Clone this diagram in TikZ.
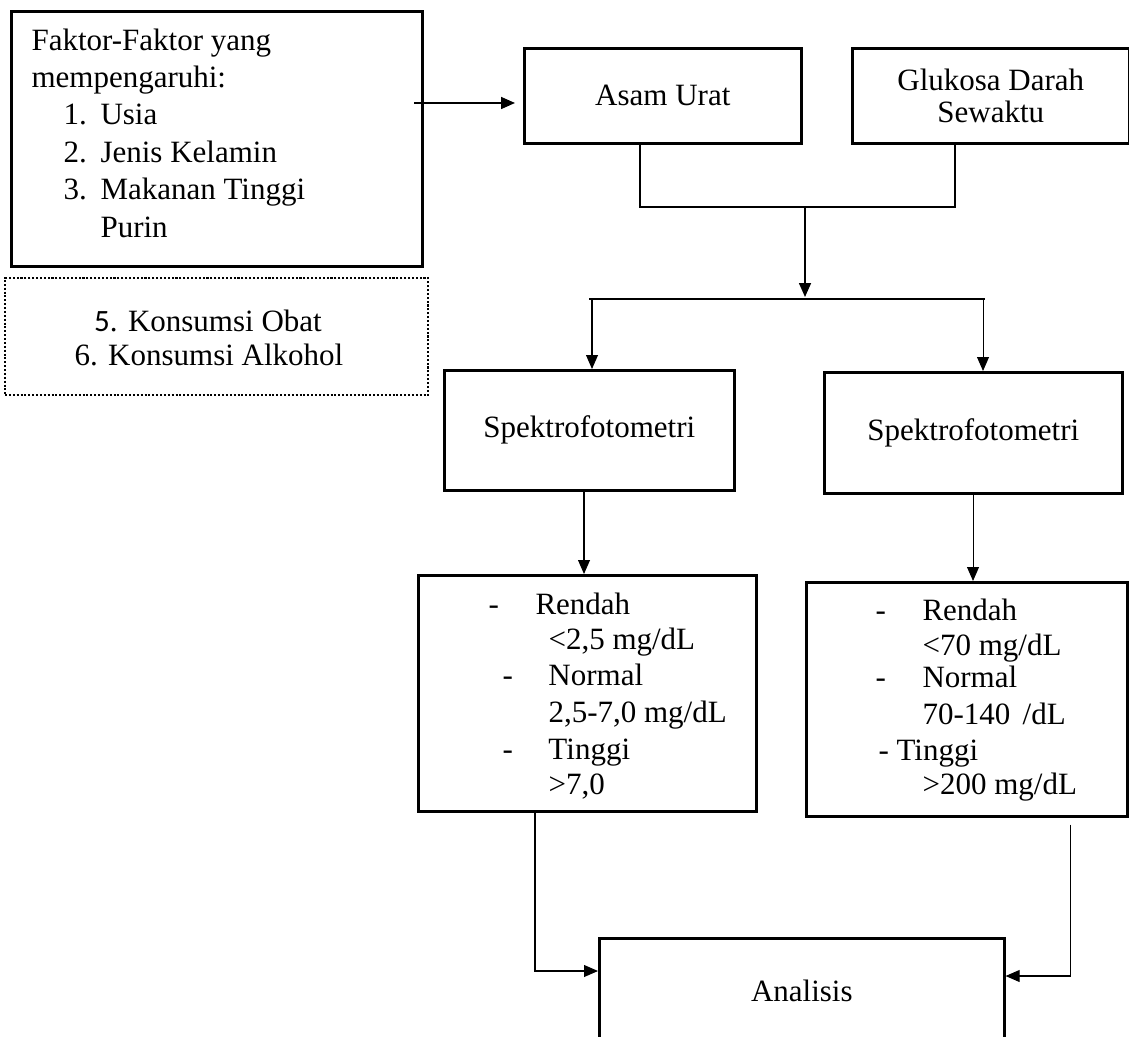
\documentclass[tikz,border=0pt]{standalone}
\usepackage{fontspec}
\setmainfont{Liberation Serif}
\newfontfamily\calibrifont{Carlito}
\usetikzlibrary{arrows.meta,calc}

\newlength\pxl
\setlength\pxl{0.3871pt}

\tikzset{
	box/.style={draw, line width=1pt, inner sep=0pt, anchor=north west},
	dotbox/.style={draw, line width=0.8pt, dash pattern=on 0.8pt off 0.7pt, inner sep=0pt, anchor=north west},
	txt/.style={inner sep=0pt, anchor=base west},
	thinline/.style={line width=0.4pt},
	thickline/.style={line width=0.9pt},
	thinarrow/.style={line width=0.4pt, -{Triangle[length=5.4pt,width=4.6pt]}},
	thickarrow/.style={line width=0.7pt, -{Triangle[length=5.4pt,width=4.6pt]}}
}

\begin{document}
\begin{tikzpicture}[x=0.3871pt, y=-0.3871pt, font=\fontsize{12}{14.5}\selectfont]
				\useasboundingbox (0,0) rectangle (1129,1037);
				% Faktor box and extra factors
				\node[box, minimum width=411*\pxl, minimum height=255*\pxl] (faktor) at (10,10) {};
				\node[txt] (f1) at (31,51) {Faktor-Faktor yang};
				\node[txt] (f2) at (31,88) {mempengaruhi:};
				\node[txt] (f3) at (63,125) {\makebox[37\pxl][l]{1.}Usia};
				\node[txt] (f4) at (63,163) {\makebox[37\pxl][l]{2.}Jenis Kelamin};
				\node[txt] (f5) at (63,200) {\makebox[37\pxl][l]{3.}Makanan Tinggi};
				\node[txt] (f6) at (100,238) {Purin};
				\node[dotbox, minimum width=423*\pxl, minimum height=117*\pxl] (lain) at (4,277) {};
				\node[txt, anchor=base] (l1) at (208,332) {{\calibrifont 5}. Konsumsi Obat};
				\node[txt, anchor=base] (l2) at (209,365) {6. Konsumsi Alkohol};
				% Pemeriksaan
				\node[box, minimum width=277*\pxl, minimum height=95*\pxl] (asam) at (523,47) {Asam Urat};
				\node[box, minimum width=277*\pxl, minimum height=95*\pxl, align=center,
					font=\fontsize{12}{12.4}\selectfont] (gds) at (851,47) {Glukosa Darah\\Sewaktu};
				\node[box, minimum width=290*\pxl, minimum height=120*\pxl] (spek1) at (443,369) {Spektrofotometri};
				\node[box, minimum width=298*\pxl, minimum height=121*\pxl] (spek2) at (823,371) {Spektrofotometri};
				% Hasil
				\node[box, minimum width=338*\pxl, minimum height=236*\pxl] (hasil1) at (417,574) {};
				\node[txt] (a1) at (488,614) {\makebox[47\pxl][l]{-}Rendah};
				\node[txt] (a2) at (548,649) {<2,5 mg/dL};
				\node[txt] (a3) at (502,685) {\makebox[46\pxl][l]{-}Normal};
				\node[txt] (a4) at (548,722) {2,5-7,0 mg/dL};
				\node[txt] (a5) at (502,759) {\makebox[46\pxl][l]{-}Tinggi};
				\node[txt] (a6) at (548,794) {>7,0};
				\node[box, minimum width=321*\pxl, minimum height=234*\pxl] (hasil2) at (805,581) {};
				\node[txt] (b1) at (875,620) {\makebox[47\pxl][l]{-}Rendah};
				\node[txt] (b2) at (922,655) {<70 mg/dL};
				\node[txt] (b3) at (875,687) {\makebox[47\pxl][l]{-}Normal};
				\node[txt] (b4) at (922,724) {70-140\hspace{0.4em}/dL};
				\node[txt] (b5) at (878,760) {- Tinggi};
				\node[txt] (b6) at (922,794) {>200 mg/dL};
				\node[box, minimum width=405*\pxl, minimum height=106*\pxl] (analisis) at (598,937) {Analisis};
				% connectors
				\coordinate (fout) at (414,103);
				\coordinate (bl) at (640,207);
				\coordinate (br) at (955,207);
				\coordinate (jn) at (805,207);
				\coordinate (split) at (805,297);
				\coordinate (sl) at (589,299);
				\coordinate (sr) at (985,299);
				\coordinate (la) at (535,971);
				\coordinate (ra) at (1070,976);
				\draw[thickarrow, shorten >=8\pxl] (fout) -- (fout -| asam.west);
				\draw[thickline] (asam.south -| bl) -- (bl) -- (br) -- (gds.south -| br);
				\draw[thickarrow] (jn) -- (split);
				\draw[thinline] (sl) -- (sr);
				\draw[thinarrow] (sl -| 592,0) -- (spek1.north -| 592,0);
				\draw[thinarrow] (sr -| 983,0) -- (spek2.north -| 983,0);
				\draw[thinarrow] (spek1.south -| 584,0) -- (hasil1.north -| 584,0);
				\draw[thinarrow] (spek2.south -| 973,0) -- (hasil2.north -| 973,0);
				\draw[thinarrow] (hasil1.south -| la) -- (la) -- (la -| analisis.west);
				\draw[thinarrow] ($(hasil2.south -| ra)+(0,7)$) -- (ra) -- (ra -| analisis.east);
			\end{tikzpicture}
\end{document}
